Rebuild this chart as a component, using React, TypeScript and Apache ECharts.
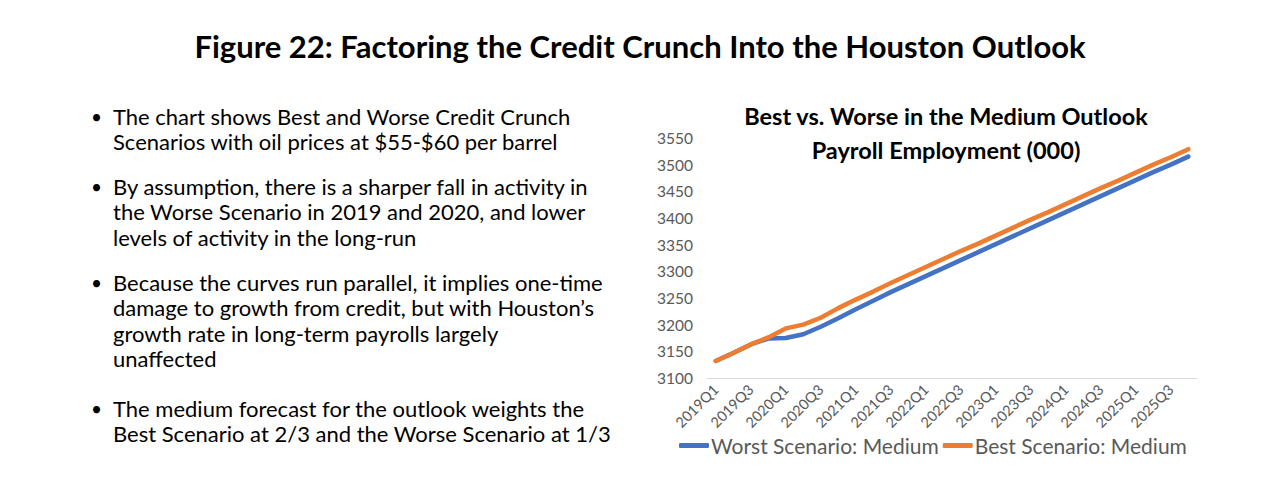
import React, { useEffect, useRef } from "react";
import * as echarts from "echarts";

const pageTitle = "Figure 22: Factoring the Credit Crunch Into the Houston Outlook";
const chartTitle = "Best vs. Worse in the Medium Outlook\nPayroll Employment (000)";

const bullets: string[][] = [
  ["The chart shows Best and Worse Credit Crunch", "Scenarios with oil prices at $55-$60 per barrel"],
  ["By assumption, there is a sharper fall in activity in", "the Worse Scenario in 2019 and 2020, and lower", "levels of activity in the long-run"],
  ["Because the curves run parallel, it implies one-time", "damage to growth from credit, but with Houston\u2019s", "growth rate in long-term payrolls largely", "unaffected"],
  ["The medium forecast for the outlook weights the", "Best Scenario at 2/3 and the Worse Scenario at 1/3"],
];

const quarters: string[] = [
  "2019Q1", "2019Q2", "2019Q3", "2019Q4",
  "2020Q1", "2020Q2", "2020Q3", "2020Q4",
  "2021Q1", "2021Q2", "2021Q3", "2021Q4",
  "2022Q1", "2022Q2", "2022Q3", "2022Q4",
  "2023Q1", "2023Q2", "2023Q3", "2023Q4",
  "2024Q1", "2024Q2", "2024Q3", "2024Q4",
  "2025Q1", "2025Q2", "2025Q3", "2025Q4",
];

const worstMedium: number[] = [
  3132, 3147, 3163, 3174, 3175, 3182, 3196, 3212,
  3229, 3245, 3261, 3276, 3291, 3306, 3321, 3336,
  3351, 3366, 3381, 3396, 3411, 3426, 3441, 3456,
  3471, 3486, 3500, 3515,
];

const bestMedium: number[] = [
  3132, 3147, 3163, 3176, 3193, 3200, 3213, 3231,
  3247, 3262, 3278, 3293, 3308, 3323, 3338, 3352,
  3367, 3382, 3397, 3411, 3426, 3441, 3456, 3470,
  3485, 3500, 3514, 3529,
];

const FONT = "Lato, 'Open Sans', sans-serif";

export default function App() {
  const ref = useRef<HTMLDivElement>(null);
  useEffect(() => {
    if (!ref.current) return;
    const chart = echarts.init(ref.current, null, { renderer: "svg" });

    const startYs = [118, 188, 284, 410];
    const lineH = 25.5;
    const graphics: any[] = [];
    bullets.forEach((lines, i) => {
      graphics.push({
        type: "text",
        left: 91,
        top: startYs[i] - 11,
        style: { text: "\u2022", font: `19px ${FONT}`, fill: "#000" },
      });
      lines.forEach((ln, j) => {
        graphics.push({
          type: "text",
          left: 113,
          top: startYs[i] - 13 + j * lineH,
          style: { text: ln, font: `22px ${FONT}`, fill: "#000" },
        });
      });
    });

    chart.setOption({
      animation: false,
      backgroundColor: "#ffffff",
      title: [
        {
          text: pageTitle,
          left: "center",
          top: 25,
          textStyle: { fontFamily: FONT, fontSize: 31, fontWeight: "bold", color: "#000" },
        },
        {
          text: chartTitle,
          left: 941,
          textAlign: "center",
          top: 94,
          textStyle: { fontFamily: FONT, fontSize: 23.5, fontWeight: "bold", color: "#000", lineHeight: 34 },
        },
      ],
      graphic: graphics,
      legend: {
        left: 674,
        top: 430,
        icon: "roundRect",
        itemWidth: 30,
        itemHeight: 5,
        itemGap: 4,
        textStyle: { fontFamily: FONT, fontSize: 21, color: "#595959", padding: [0, 0, 0, -3] },
        data: ["Worst Scenario: Medium", "Best Scenario: Medium"],
      },
      grid: { left: 707, right: 83, top: 138, bottom: 126, containLabel: false },
      xAxis: {
        type: "category",
        data: quarters,
        boundaryGap: true,
        axisLine: { show: true, lineStyle: { color: "#d9d9d9", width: 1 } },
        axisTick: { show: false },
        axisLabel: {
          interval: 1,
          rotate: 45,
          color: "#595959",
          fontFamily: FONT,
          fontSize: 14.5,
          margin: 9,
        },
      },
      yAxis: {
        type: "value",
        min: 3100,
        max: 3550,
        interval: 50,
        splitLine: { show: false },
        axisLine: { show: false },
        axisTick: { show: false },
        axisLabel: {
          color: "#595959",
          fontFamily: FONT,
          fontSize: 15.5,
          margin: 14,
          formatter: (v: number) => String(v),
        },
      },
      series: [
        {
          name: "Worst Scenario: Medium",
          type: "line",
          data: worstMedium,
          showSymbol: false,
          symbol: "none",
          lineStyle: { color: "#4472C4", width: 4.5, cap: "round", join: "round" },
          itemStyle: { color: "#4472C4" },
        },
        {
          name: "Best Scenario: Medium",
          type: "line",
          data: bestMedium,
          showSymbol: false,
          symbol: "none",
          lineStyle: { color: "#ED7D31", width: 4.5, cap: "round", join: "round" },
          itemStyle: { color: "#ED7D31" },
        },
      ],
    });
    return () => chart.dispose();
  }, []);

  return (
    <div
      ref={ref}
      style={{ position: "fixed", left: 0, top: 0, width: 1280, height: 504, background: "#fff" }}
    />
  );
}
